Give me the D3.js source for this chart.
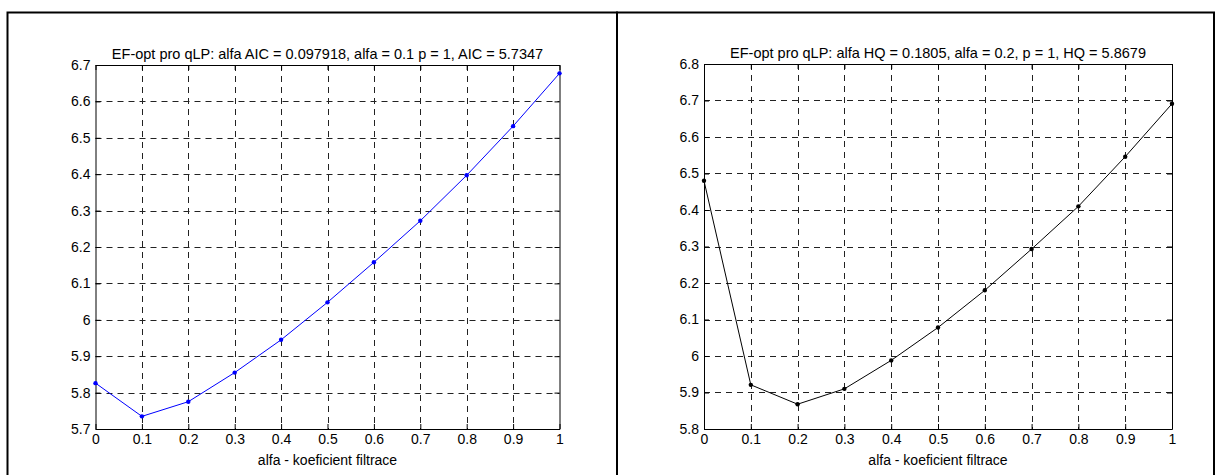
<!DOCTYPE html>
<html>
<head>
<meta charset="utf-8">
<title>EF-opt pro qLP</title>
<script src="https://cdn.jsdelivr.net/npm/d3@7"></script>
<style>
  body { margin: 0; background: #fff; }
  text { font-family: "Liberation Sans", Arial, sans-serif; fill: #000; }
</style>
</head>
<body>
<svg id="svg"></svg>
<script>
// alfa values (x) shared by both charts
var alfa = [0, 0.1, 0.2, 0.3, 0.4, 0.5, 0.6, 0.7, 0.8, 0.9, 1];
var xTicks = [0, 0.1, 0.2, 0.3, 0.4, 0.5, 0.6, 0.7, 0.8, 0.9, 1];

// left chart: AIC
var aicValues = [5.826, 5.7347, 5.775, 5.855, 5.945, 6.048, 6.158, 6.272, 6.397, 6.532, 6.677];
var aicTicks = [5.7, 5.8, 5.9, 6, 6.1, 6.2, 6.3, 6.4, 6.5, 6.6, 6.7];
var aicTitle = "EF-opt pro qLP: alfa AIC = 0.097918, alfa = 0.1 p = 1, AIC = 5.7347";

// right chart: HQ
var hqValues = [6.480, 5.921, 5.8679, 5.910, 5.988, 6.078, 6.180, 6.293, 6.410, 6.546, 6.691];
var hqTicks = [5.8, 5.9, 6, 6.1, 6.2, 6.3, 6.4, 6.5, 6.6, 6.7, 6.8];
var hqTitle = "EF-opt pro qLP: alfa HQ = 0.1805, alfa = 0.2, p = 1, HQ = 5.8679";

var xLabel = "alfa - koeficient filtrace";

var width = 1222, height = 475,
    fontSize = "14px", titleSize = "14.5px";

var svg = d3.select("#svg")
    .attr("width", width)
    .attr("height", height);

// panel frames
svg.append("rect")
    .attr("x", 7.5).attr("y", 12.5)
    .attr("width", 609.5).attr("height", 470)
    .attr("fill", "none").attr("stroke", "#000").attr("stroke-width", 2);
svg.append("rect")
    .attr("x", 617).attr("y", 12.5)
    .attr("width", 597).attr("height", 470)
    .attr("fill", "none").attr("stroke", "#000").attr("stroke-width", 2);

function drawChart(box, values, yTicks, color, title) {
    var scaleX = d3.scaleLinear().domain([0, 1]).range([box.left, box.right]);
    var scaleY = d3.scaleLinear().domain([yTicks[0], yTicks[yTicks.length - 1]])
        .range([box.bottom, box.top]);

    var g = svg.append("g");

    // dashed grid
    g.selectAll("line.gx")
        .data(xTicks.slice(1, -1))
        .enter().append("line")
        .attr("x1", d => Math.round(scaleX(d)) + 0.5)
        .attr("x2", d => Math.round(scaleX(d)) + 0.5)
        .attr("y1", box.top).attr("y2", box.bottom)
        .attr("stroke", "#222").attr("stroke-dasharray", "6,5");
    g.selectAll("line.gy")
        .data(yTicks.slice(1, -1))
        .enter().append("line")
        .attr("y1", d => Math.round(scaleY(d)) + 0.5)
        .attr("y2", d => Math.round(scaleY(d)) + 0.5)
        .attr("x1", box.left).attr("x2", box.right)
        .attr("stroke", "#222").attr("stroke-dasharray", "6,5");

    // axes: bottom/left with labels, top/right mirror ticks only
    var axB = d3.axisBottom(scaleX).tickValues(xTicks).tickSizeInner(-5).tickSizeOuter(0)
        .tickPadding(5).tickFormat(d3.format("~g"));
    var axT = d3.axisTop(scaleX).tickValues(xTicks).tickSizeInner(-5).tickSizeOuter(0)
        .tickFormat("");
    var axL = d3.axisLeft(scaleY).tickValues(yTicks).tickSizeInner(-5).tickSizeOuter(0)
        .tickPadding(5).tickFormat(d3.format("~g"));
    var axR = d3.axisRight(scaleY).tickValues(yTicks).tickSizeInner(-5).tickSizeOuter(0)
        .tickFormat("");

    [[axB, "translate(0," + box.bottom + ")"],
     [axT, "translate(0," + box.top + ")"],
     [axL, "translate(" + box.left + ",0)"],
     [axR, "translate(" + box.right + ",0)"]].forEach(function(a) {
        var ga = g.append("g").attr("transform", a[1]).call(a[0]);
        ga.selectAll("path").attr("stroke", "#000");
        ga.selectAll("line").attr("stroke", "#000");
        ga.selectAll("text").style("font-size", fontSize)
            .style("font-family", "'Liberation Sans', Arial, sans-serif").attr("fill", "#000");
    });

    // title and x label
    g.append("text")
        .attr("x", (box.left + box.right) / 2).attr("y", box.top - 6)
        .style("text-anchor", "middle").style("font-size", titleSize)
        .text(title);
    g.append("text")
        .attr("x", (box.left + box.right) / 2).attr("y", box.bottom + 36)
        .style("text-anchor", "middle").style("font-size", fontSize)
        .text(xLabel);

    // line and dots
    var line = d3.line()
        .x((d, i) => scaleX(alfa[i]))
        .y(d => scaleY(d));
    g.append("path")
        .datum(values)
        .attr("d", line)
        .attr("fill", "none").attr("stroke", color).attr("stroke-width", 1);
    g.selectAll("circle")
        .data(values)
        .enter().append("circle")
        .attr("cx", (d, i) => scaleX(alfa[i]))
        .attr("cy", d => scaleY(d))
        .attr("r", 2.2)
        .attr("fill", color);
}

drawChart({left: 95.5, right: 559.5, top: 65, bottom: 429}, aicValues, aicTicks, "#0000ff", aicTitle);
drawChart({left: 704, right: 1172, top: 64, bottom: 429}, hqValues, hqTicks, "#000000", hqTitle);
</script>
</body>
</html>
